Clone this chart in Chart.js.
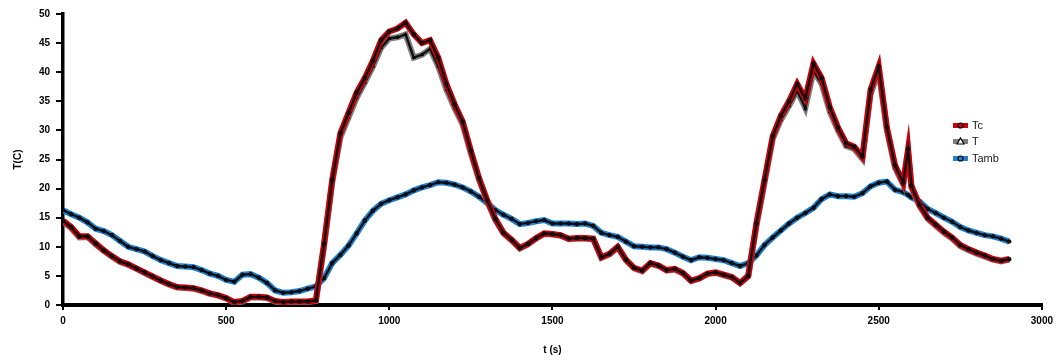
<!DOCTYPE html>
<html>
<head>
<meta charset="utf-8">
<script src="https://cdn.jsdelivr.net/npm/chart.js@4.4.0/dist/chart.umd.min.js"></script>
<style>
  html, body { margin: 0; padding: 0; background: #fff; }
  .grafica { width: 1058px; height: 360px; }
</style>
</head>
<body>
<div class="grafica"><canvas id="myChart"></canvas></div>
<script>
// tiempos (s)
const tiempos = [
  0, 25, 50, 75, 100, 125, 150, 175, 200, 225,
  250, 275, 300, 325, 350, 375, 400, 425, 450, 475,
  500, 525, 550, 575, 600, 625, 650, 675, 700, 725,
  750, 775, 800, 825, 850, 875, 900, 925, 950, 975,
  1000, 1025, 1050, 1075, 1100, 1125, 1150, 1175, 1200, 1225,
  1250, 1275, 1300, 1325, 1350, 1375, 1400, 1425, 1450, 1475,
  1500, 1525, 1550, 1575, 1600, 1625, 1650, 1675, 1700, 1725,
  1750, 1775, 1800, 1825, 1850, 1875, 1900, 1925, 1950, 1975,
  2000, 2025, 2050, 2075, 2100, 2125, 2150, 2175, 2200, 2225,
  2250, 2275, 2300, 2325, 2350, 2375, 2400, 2425, 2450, 2475,
  2500, 2525, 2550, 2575, 2590, 2600, 2625, 2650, 2675, 2700, 2725,
  2750, 2775, 2800, 2825, 2850, 2875, 2900
]

const Tc = [
  14.5, 13.4, 11.8, 11.8, 10.6, 9.4, 8.4, 7.5, 7.0, 6.3,
  5.6, 4.9, 4.2, 3.6, 3.1, 3.0, 2.9, 2.5, 2.0, 1.7,
  1.2, 0.5, 0.7, 1.4, 1.4, 1.3, 0.7, 0.5, 0.6, 0.6,
  0.6, 0.8, 10.5, 21.5, 29.5, 33.0, 36.5, 39.0, 42.0, 45.5,
  47.0, 47.5, 48.5, 46.5, 45.0, 45.5, 42.5, 38.0, 34.5, 31.5,
  26.5, 21.8, 18.0, 14.8, 12.4, 11.2, 9.8, 10.5, 11.5, 12.3,
  12.2, 12.0, 11.4, 11.5, 11.5, 11.4, 8.2, 8.8, 10.0, 7.8,
  6.4, 5.9, 7.2, 6.8, 6.0, 6.2, 5.5, 4.2, 4.6, 5.4,
  5.6, 5.2, 4.8, 3.8, 5.0, 14.0, 21.5, 29.0, 32.5, 35.0,
  38.0, 35.5, 41.5, 39.0, 34.0, 30.5, 27.8, 27.2, 25.5, 37.0,
  41.0, 30.5, 24.0, 21.0, 26.8, 20.5, 17.2, 15.0, 13.8, 12.6, 11.6,
  10.3, 9.6, 9.0, 8.5, 7.9, 7.6, 7.9
]

const T = [
  14.3, 13.2, 11.6, 11.7, 10.4, 9.3, 8.3, 7.4, 6.9, 6.2,
  5.5, 4.8, 4.1, 3.5, 3.0, 2.9, 2.8, 2.4, 1.9, 1.6,
  1.1, 0.4, 0.6, 1.3, 1.3, 1.2, 0.6, 0.4, 0.5, 0.5,
  0.5, 0.7, 10.0, 21.0, 28.8, 32.2, 35.6, 38.2, 41.0, 44.2,
  45.8, 46.0, 46.5, 42.5, 43.0, 44.0, 41.0, 37.0, 33.8, 31.0,
  26.0, 21.5, 17.8, 14.6, 12.3, 11.1, 9.7, 10.4, 11.4, 12.2,
  12.1, 11.9, 11.3, 11.4, 11.4, 11.3, 8.1, 8.7, 9.9, 7.7,
  6.3, 5.8, 7.1, 6.7, 5.9, 6.1, 5.4, 4.1, 4.5, 5.3,
  5.5, 5.1, 4.7, 3.7, 4.9, 13.5, 21.0, 28.5, 31.8, 34.2,
  36.8, 33.8, 40.2, 38.0, 33.2, 30.0, 27.3, 26.8, 25.1, 36.2,
  40.2, 30.0, 23.6, 20.7, 26.3, 20.2, 17.0, 14.8, 13.6, 12.4, 11.4,
  10.1, 9.4, 8.8, 8.3, 7.8, 7.5, 7.8
]

const Tamb = [
  16.3, 15.6, 15.0, 14.2, 13.1, 12.7, 12.0, 11.0, 10.0, 9.6,
  9.2, 8.4, 7.7, 7.2, 6.7, 6.6, 6.5, 6.0, 5.4, 5.0,
  4.3, 4.0, 5.2, 5.3, 4.7, 3.8, 2.5, 2.1, 2.2, 2.4,
  2.8, 3.2, 4.6, 7.2, 8.6, 10.2, 12.3, 14.5, 16.2, 17.4,
  18.0, 18.5, 19.0, 19.7, 20.2, 20.6, 21.1, 21.0, 20.7, 20.2,
  19.5, 18.6, 17.5, 16.3, 15.5, 14.8, 13.9, 14.1, 14.4, 14.6,
  14.0, 14.0, 14.0, 13.9, 14.0, 13.6, 12.4, 12.0, 11.7, 10.9,
  10.1, 10.0, 9.9, 9.9, 9.6, 9.0, 8.3, 7.7, 8.2, 8.1,
  7.9, 7.7, 7.2, 6.7, 7.2, 8.5, 10.3, 11.6, 12.8, 14.0,
  15.0, 15.8, 16.7, 18.2, 19.0, 18.7, 18.7, 18.6, 19.2, 20.4,
  21.0, 21.2, 19.8, 19.4, 18.9, 18.5, 17.8, 16.5, 15.8, 15.0, 14.3,
  13.4, 12.8, 12.4, 12.0, 11.8, 11.4, 10.9
]

const series = [
  { nombre: 'Tc', valores: Tc, color: '#c8000a', marca: 'circle' },
  { nombre: 'T', valores: T, color: '#7f7f7f', marca: 'triangle' },
  { nombre: 'Tamb', valores: Tamb, color: '#1f7fd0', marca: 'circle' }
]

const fuente = 'Liberation Sans, Arial, sans-serif'

function puntos(valores) {
  return tiempos.map((t, i) => ({ x: t, y: valores[i] }))
}

// cada serie: linea de color gruesa y encima la linea negra de marcadores
const datasets = []
series.forEach((s, i) => {
  datasets.push({
    label: s.nombre + ' marcas',
    data: puntos(s.valores),
    borderColor: '#111',
    borderWidth: 2.4,
    pointStyle: s.marca,
    pointRadius: 1.8,
    pointBackgroundColor: '#111',
    pointBorderColor: '#000',
    pointBorderWidth: 0.8,
    tension: 0,
    fill: false,
    order: i * 2
  })
  datasets.push({
    label: s.nombre,
    data: puntos(s.valores),
    borderColor: s.color,
    borderWidth: 6,
    pointRadius: 0,
    tension: 0,
    fill: false,
    order: i * 2 + 1
  })
})

// leyenda dibujada a mano dentro del area
const leyenda = {
  id: 'leyenda',
  afterDraw(chart) {
    const ctx = chart.ctx
    const x = 953
    const filas = [125, 141, 158]
    ctx.save()
    series.forEach((s, i) => {
      const y = filas[i]
      ctx.fillStyle = s.color
      ctx.fillRect(x, y - 2, 15, 5)
      ctx.strokeStyle = '#000'
      ctx.lineWidth = 1.2
      ctx.beginPath()
      if (s.marca === 'triangle') {
        ctx.moveTo(x + 7.5, y - 3)
        ctx.lineTo(x + 11, y + 3)
        ctx.lineTo(x + 4, y + 3)
        ctx.closePath()
        ctx.fillStyle = '#fff'
        ctx.fill()
        ctx.stroke()
      } else {
        ctx.arc(x + 7.5, y + 0.5, 2.5, 0, Math.PI * 2)
        ctx.fillStyle = s.color
        ctx.fill()
        ctx.stroke()
      }
      ctx.fillStyle = '#222'
      ctx.font = '11px ' + fuente
      ctx.textBaseline = 'middle'
      ctx.fillText(s.nombre, x + 19, y + 1)
    })
    ctx.restore()
  }
}

const ctx = document.getElementById('myChart')
new Chart(ctx, {
  type: 'line',
  data: { datasets: datasets },
  options: {
    responsive: true,
    maintainAspectRatio: false,
    animation: false,
    layout: { padding: { left: 0, right: 15, top: 14, bottom: 0 } },
    plugins: {
      legend: { display: false },
      tooltip: { enabled: false }
    },
    scales: {
      x: {
        type: 'linear',
        min: 0,
        max: 3000,
        ticks: {
          stepSize: 500,
          maxRotation: 0,
          color: '#000',
          padding: 5,
          font: { family: fuente, size: 10, weight: 'bold' },
          callback: v => String(v)
        },
        grid: { drawOnChartArea: false, drawTicks: true, tickLength: 5, color: '#000', lineWidth: 2 },
        border: { display: true, color: '#000', width: 4 },
        title: {
          display: true,
          text: 't (s)',
          color: '#000',
          padding: { top: 0, bottom: 4 },
          font: { family: fuente, size: 10, weight: 'bold' }
        },
        afterFit(scale) { scale.height = 55 }
      },
      y: {
        min: 0,
        max: 50,
        ticks: {
          stepSize: 5,
          color: '#000',
          padding: 6,
          font: { family: fuente, size: 10, weight: 'bold' },
          callback: v => String(v)
        },
        grid: { drawOnChartArea: false, drawTicks: true, tickLength: 7, color: '#000', lineWidth: 2 },
        border: { display: true, color: '#000', width: 3.5 },
        title: {
          display: true,
          text: 'T(C)',
          color: '#000',
          padding: { top: 12, bottom: 0 },
          font: { family: fuente, size: 10, weight: 'bold' }
        },
        afterFit(scale) { scale.width = 63 }
      }
    }
  },
  plugins: [leyenda]
})
</script>
</body>
</html>
